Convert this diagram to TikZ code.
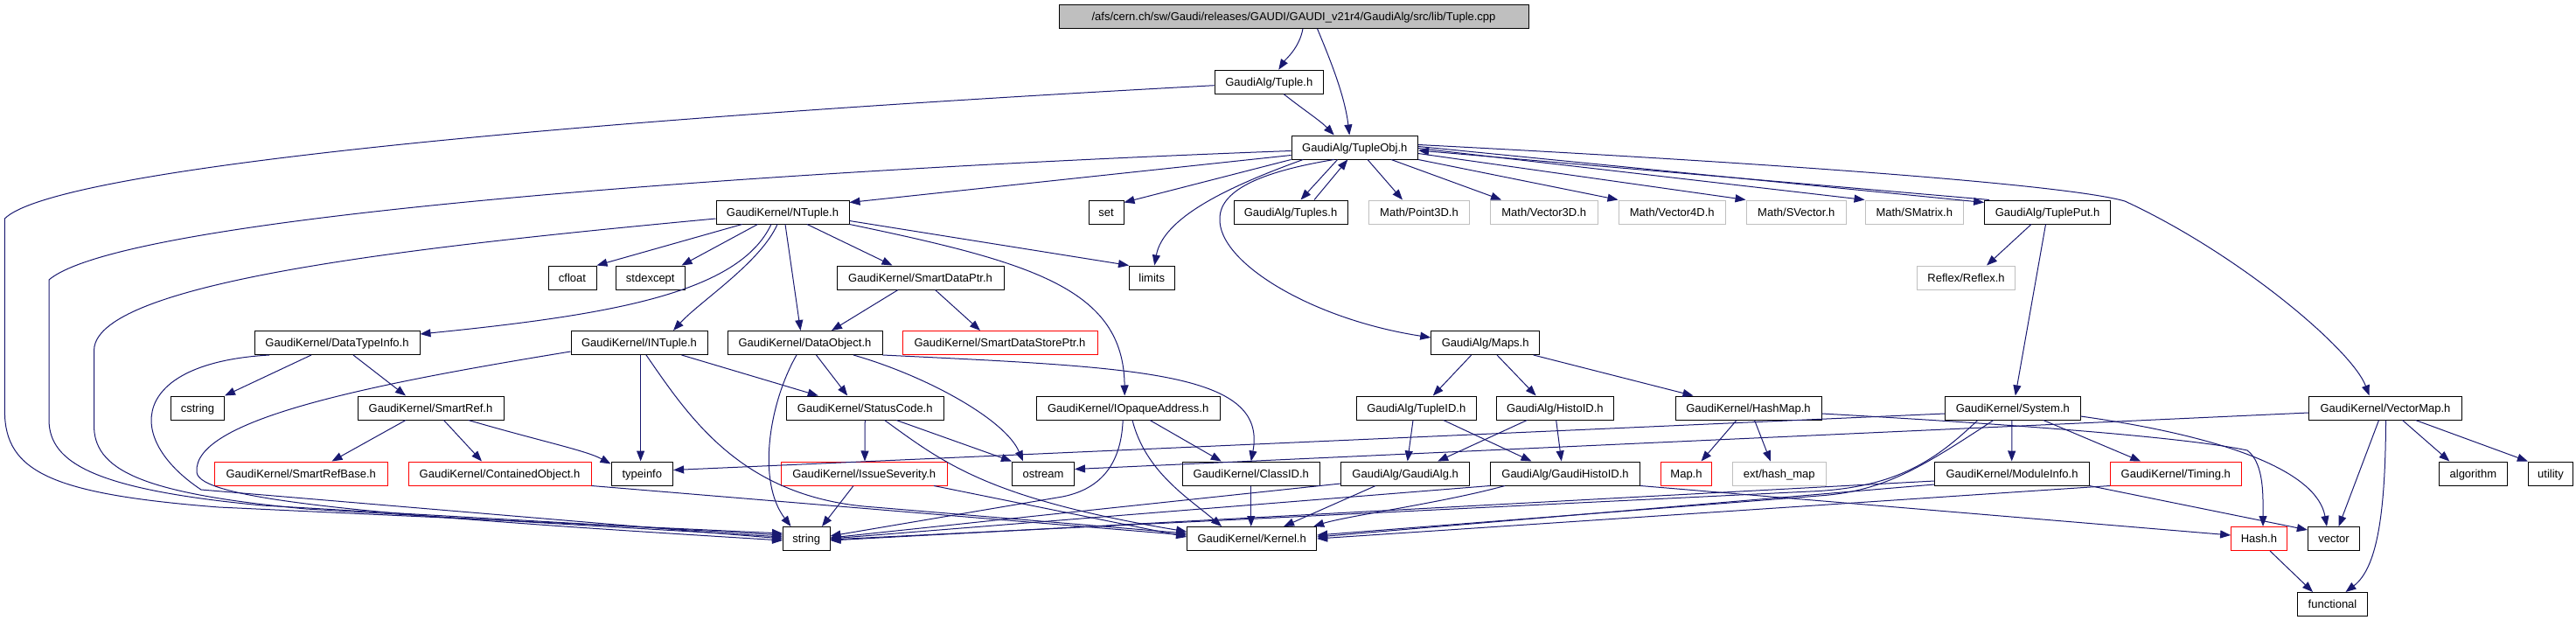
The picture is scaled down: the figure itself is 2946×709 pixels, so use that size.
\documentclass[tikz,border=0pt]{standalone}
\usepackage{fontspec}
\setmainfont{Liberation Sans}
\usetikzlibrary{arrows.meta}
\definecolor{edgeblue}{HTML}{191970}
\definecolor{extgray}{HTML}{BFBFBF}
\definecolor{errred}{HTML}{FF0000}
\begin{document}
\begin{tikzpicture}[x=1pt,y=-1pt,
  hdr/.style={draw=black, line width=1pt, fill=white, minimum width=#1, minimum height=27pt,
    inner sep=0pt, text height=11.5pt, text depth=2pt, font=\fontsize{13pt}{15pt}\selectfont},
  redb/.style={draw=errred},
  grayb/.style={draw=extgray},
  edge/.style={draw=edgeblue, line width=1pt, -{Triangle[length=12pt,width=9pt]}}]
\path[use as bounding box] (0,0) rectangle (2946,709);
% row 0-2
\node[hdr=537pt, fill=extgray] (cpp) at (1479.5,18.8) {/afs/cern.ch/sw/Gaudi/releases/GAUDI/GAUDI\_v21r4/GaudiAlg/src/lib/Tuple.cpp};
\node[hdr=124.5pt] (tupleh) at (1451.25,93.7) {GaudiAlg/Tuple.h};
\node[hdr=144.5pt] (tupleobj) at (1549.25,168.5) {GaudiAlg/TupleObj.h};
% row 3
\node[hdr=152pt] (ntuple) at (895,242.5) {GaudiKernel/NTuple.h};
\node[hdr=40pt] (set) at (1265,242.5) {set};
\node[hdr=130pt] (tuples) at (1476,242.5) {GaudiAlg/Tuples.h};
\node[hdr=115pt, grayb] (point3d) at (1623,242.5) {Math/Point3D.h};
\node[hdr=122.5pt, grayb] (vector3d) at (1765.75,242.5) {Math/Vector3D.h};
\node[hdr=122.5pt, grayb] (vector4d) at (1912.25,242.5) {Math/Vector4D.h};
\node[hdr=114.6pt, grayb] (svector) at (2054.3,242.5) {Math/SVector.h};
\node[hdr=112.5pt, grayb] (smatrix) at (2189.25,242.5) {Math/SMatrix.h};
\node[hdr=143.8pt] (tupleput) at (2341.5,242.5) {GaudiAlg/TuplePut.h};
% row 4
\node[hdr=55pt] (cfloat) at (654.5,317.5) {cfloat};
\node[hdr=79.5pt] (stdexcept) at (743.75,317.5) {stdexcept};
\node[hdr=191pt] (smartdataptr) at (1052.5,317.5) {GaudiKernel/SmartDataPtr.h};
\node[hdr=51.5pt] (limits) at (1317.25,317.5) {limits};
\node[hdr=112pt, grayb] (reflex) at (2248.5,317.5) {Reflex/Reflex.h};
% row 5
\node[hdr=189pt] (datatypeinfo) at (385.5,392) {GaudiKernel/DataTypeInfo.h};
\node[hdr=156pt] (intuple) at (731,392) {GaudiKernel/INTuple.h};
\node[hdr=177pt] (dataobject) at (920.5,392) {GaudiKernel/DataObject.h};
\node[hdr=223pt, redb] (smartdatastoreptr) at (1143.5,392) {GaudiKernel/SmartDataStorePtr.h};
\node[hdr=124pt] (maps) at (1698.7,392) {GaudiAlg/Maps.h};
% row 6
\node[hdr=61pt] (cstring) at (226,466.5) {cstring};
\node[hdr=167pt] (smartref) at (492.5,466.5) {GaudiKernel/SmartRef.h};
\node[hdr=180.5pt] (statuscode) at (989.25,466.5) {GaudiKernel/StatusCode.h};
\node[hdr=210.4pt] (iopaque) at (1290.2,466.5) {GaudiKernel/IOpaqueAddress.h};
\node[hdr=136.5pt] (tupleid) at (1619.75,466.5) {GaudiAlg/TupleID.h};
\node[hdr=133.3pt] (histoid) at (1778.35,466.5) {GaudiAlg/HistoID.h};
\node[hdr=167pt] (hashmap) at (1999.5,466.5) {GaudiKernel/HashMap.h};
\node[hdr=154.4pt] (system) at (2301.8,466.5) {GaudiKernel/System.h};
\node[hdr=174.8pt] (vectormap) at (2728,466.5) {GaudiKernel/VectorMap.h};
% row 7
\node[hdr=197.5pt, redb] (smartrefbase) at (344.25,541.5) {GaudiKernel/SmartRefBase.h};
\node[hdr=209pt, redb] (containedobject) at (571.5,541.5) {GaudiKernel/ContainedObject.h};
\node[hdr=70.6pt] (typeinfo) at (734.3,541.5) {typeinfo};
\node[hdr=190.5pt, redb] (issueseverity) at (988.25,541.5) {GaudiKernel/IssueSeverity.h};
\node[hdr=71pt] (ostream) at (1193,541.5) {ostream};
\node[hdr=156.5pt] (classid) at (1430.75,541.5) {GaudiKernel/ClassID.h};
\node[hdr=147pt] (gaudialg) at (1607.15,541.5) {GaudiAlg/GaudiAlg.h};
\node[hdr=171pt] (gaudihistoid) at (1790,541.5) {GaudiAlg/GaudiHistoID.h};
\node[hdr=58pt, redb] (maph) at (1928.5,541.5) {Map.h};
\node[hdr=106.4pt, grayb] (exthashmap) at (2034.8,541.5) {ext/hash\_map};
\node[hdr=176.4pt] (moduleinfo) at (2301,541.5) {GaudiKernel/ModuleInfo.h};
\node[hdr=149.5pt, redb] (timing) at (2488.25,541.5) {GaudiKernel/Timing.h};
\node[hdr=77.7pt] (algorithm) at (2828.35,541.5) {algorithm};
\node[hdr=51.3pt] (utility) at (2917,541.5) {utility};
% row 8-9
\node[hdr=53.5pt] (string) at (922.25,616) {string};
\node[hdr=148pt] (kernel) at (1431.65,616) {GaudiKernel/Kernel.h};
\node[hdr=63.6pt, redb] (hash) at (2583.4,616) {Hash.h};
\node[hdr=59.3pt] (vector) at (2669,616) {vector};
\node[hdr=80pt] (functional) at (2667.5,691) {functional};

% ---- edges ----
\draw[edge] ([xshift=10.5]cpp.south) .. controls (1486,55) and (1470,68) .. ([xshift=11]tupleh.north);
\draw[edge] ([xshift=27]cpp.south) .. controls (1522,70) and (1538,110) .. ([xshift=-6]tupleobj.north);
\draw[edge] ([xshift=17]tupleh.south) .. controls (1490,125) and (1510,138) .. ([xshift=-23.5]tupleobj.north);
% to string (left bundle)
\draw[edge] ([yshift=-4]tupleh.west) .. controls (600,140) and (60,195) .. (5.4,250) -- (5.4,470) .. controls (5.4,540) and (60,565) .. (250,580) -- ([yshift=6]string.west);
\draw[edge] ([yshift=-4]tupleobj.west) .. controls (1000,190) and (150,240) .. (56,320) -- (56,480) .. controls (56,530) and (110,560) .. (300,578) -- ([yshift=4]string.west);
\draw[edge] ([yshift=-7.5]ntuple.west) .. controls (500,280) and (110,320) .. (107.6,400) -- (107.6,490) .. controls (110,540) and (170,565) .. (350,582) -- ([yshift=2]string.west);
\draw[edge] ([xshift=-77.5]datatypeinfo.south) .. controls (150,415) and (140,500) .. (230,560) -- (string.west);
\draw[edge] ([yshift=-10]intuple.west) .. controls (420,440) and (220,480) .. (225,540) .. controls (228,570) and (400,588) .. ([yshift=-2]string.west);
% to string (top/right)
\draw[edge] ([xshift=-9.5]dataobject.south) .. controls (880,460) and (865,550) .. ([xshift=-17.75]string.north);
\draw[edge] ([xshift=-12.25]issueseverity.south) -- ([xshift=17.75]string.north);
\draw[edge] ([xshift=-6]iopaque.south) .. controls (1282,535) and (1255,560) .. (1215,568) -- ([yshift=3]string.east);
\draw[edge] ([yshift=-11.5]gaudialg.west) -- ([yshift=1]string.east);
\draw[edge] (gaudihistoid.south west) -- (string.east);
\draw[edge] ([xshift=-40]system.south) .. controls (2215,525) and (2170,558) .. (2070,562) -- ([yshift=-1]string.east);
\draw[edge] ([yshift=-8.5]moduleinfo.west) -- ([yshift=-2]string.east);
% to Kernel.h
\draw[edge] ([xshift=8]intuple.south) .. controls (790,480) and (850,570) .. (1000,580) -- ([yshift=6]kernel.west);
\draw[edge] (containedobject.south east) -- ([yshift=4]kernel.west);
\draw[edge] ([xshift=79.75]issueseverity.south) -- ([yshift=2]kernel.west);
\draw[edge] ([xshift=22.35]statuscode.south) .. controls (1080,530) and (1130,570) .. ([yshift=8]kernel.west);
\draw[edge] ([xshift=4.8]iopaque.south) .. controls (1310,540) and (1360,570) .. ([xshift=-34.6]kernel.north);
\draw[edge] (classid.south) -- ([xshift=-0.9]kernel.north);
\draw[edge] ([xshift=-34]gaudialg.south) -- ([xshift=36.4]kernel.north);
\draw[edge] ([xshift=-69]gaudihistoid.south) .. controls (1650,575) and (1540,590) .. ([xshift=-4]kernel.north east);
\draw[edge] ([xshift=-22]system.south) .. controls (2190,540) and (2150,562) .. (2080,567) -- ([yshift=4]kernel.east);
\draw[edge] ([yshift=-12.5]moduleinfo.west) -- ([yshift=2]kernel.east);
\draw[edge] (timing.south west) -- (kernel.east);
% typeinfo
\draw[edge] ([xshift=1.6]intuple.south) -- ([xshift=-1.7]typeinfo.north);
\draw[edge] ([xshift=43.2]smartref.south) .. controls (620,505) and (670,515) .. ([yshift=-3]typeinfo.north west);
\draw[edge] ([yshift=-6.5]system.west) -- ([yshift=4]typeinfo.east);
% ostream
\draw[edge] ([xshift=35.75]statuscode.south) -- (ostream.north west);
\draw[edge] ([xshift=55.5]dataobject.south) .. controls (1060,430) and (1150,480) .. ([xshift=-23]ostream.north);
\draw[edge] ([yshift=-5.5]vectormap.west) -- ([yshift=5]ostream.east);
% StatusCode, ClassID
\draw[edge] ([xshift=13]dataobject.south) -- ([xshift=-20]statuscode.north);
\draw[edge] ([xshift=48.5]intuple.south) -- ([xshift=-53.5]statuscode.north);
\draw[edge] (statuscode.south) -- ([xshift=0.75]issueseverity.north);
\draw[edge] (dataobject.south east) .. controls (1300,420) and (1450,425) .. (classid.north);
\draw[edge] ([xshift=24.8]iopaque.south) -- ([xshift=-34]classid.north);
% DataTypeInfo, SmartRef
\draw[edge] ([xshift=-29.5]datatypeinfo.south) -- (cstring.north east);
\draw[edge] ([xshift=18.5]datatypeinfo.south) -- ([xshift=-28.5]smartref.north);
\draw[edge] ([xshift=-28.5]smartref.south) -- ([xshift=35.25]smartrefbase.north);
\draw[edge] ([xshift=15]smartref.south) -- ([xshift=-20.5]containedobject.north);
% NTuple
\draw[edge] ([xshift=-46.3]ntuple.south) -- (cfloat.north east);
\draw[edge] ([xshift=-28.5]ntuple.south) -- ([xshift=35.75]stdexcept.north);
\draw[edge] ([xshift=-13]ntuple.south) .. controls (845,335) and (700,360) .. ([yshift=-4]datatypeinfo.north east);
\draw[edge] ([xshift=-6]ntuple.south) .. controls (870,300) and (800,345) .. ([xshift=39]intuple.north);
\draw[edge] ([xshift=3]ntuple.south) -- ([xshift=-5]dataobject.north);
\draw[edge] ([xshift=28]ntuple.south) -- ([xshift=-32]smartdataptr.north);
\draw[edge] ([yshift=-10]ntuple.east) -- (limits.north west);
\draw[edge] (ntuple.south east) .. controls (1180,300) and (1285,330) .. ([xshift=-4]iopaque.north);
% SmartDataPtr
\draw[edge] ([xshift=-25.5]smartdataptr.south) -- ([xshift=30.5]dataobject.north);
\draw[edge] ([xshift=17]smartdataptr.south) -- ([xshift=-22.5]smartdatastoreptr.north);
% TupleObj
\draw[edge] ([yshift=-9]tupleobj.west) -- ([yshift=-3]ntuple.north east);
\draw[edge] (tupleobj.south west) -- ([yshift=-3]set.north east);
\draw[edge] ([xshift=-59]tupleobj.south) .. controls (1400,215) and (1330,250) .. ([xshift=3]limits.north);
\draw[edge] ([xshift=-23.5]tupleobj.south) .. controls (1450,195) and (1395,215) .. (1395,250) .. controls (1393,300) and (1500,365) .. ([yshift=6]maps.west);
\draw[edge] ([xshift=-19.65]tupleobj.south) -- ([xshift=11.5]tuples.north);
\draw[edge] ([xshift=27]tuples.north) -- ([xshift=-8]tupleobj.south);
\draw[edge] ([xshift=14.75]tupleobj.south) -- ([xshift=-19]point3d.north);
\draw[edge] ([xshift=41.75]tupleobj.south) -- ([xshift=-48.75]vector3d.north);
\draw[edge] (tupleobj.south east) -- (vector4d.north west);
\draw[edge] ([yshift=-7]tupleobj.east) -- (svector.north west);
\draw[edge] ([yshift=-1]tupleobj.east) -- (smatrix.north west);
\draw[edge] ([yshift=1]tupleobj.east) -- ([yshift=-3]tupleput.north west);
\draw[edge] ([xshift=6]tupleput.north west) -- ([yshift=-3.5]tupleobj.east);
\draw[edge] ([yshift=3]tupleobj.east) .. controls (2000,185) and (2360,210) .. (2430,230) .. controls (2560,290) and (2690,400) .. ([xshift=-18.4]vectormap.north);
% TuplePut
\draw[edge] ([xshift=-18.5]tupleput.south) -- ([xshift=23.5]reflex.north);
\draw[edge] ([xshift=-2]tupleput.south) -- ([xshift=3]system.north);
% Maps
\draw[edge] ([xshift=-16]maps.south) -- ([xshift=19]tupleid.north);
\draw[edge] ([xshift=13.3]maps.south) -- ([xshift=-21.7]histoid.north);
\draw[edge] ([xshift=55]maps.south) -- ([xshift=-63]hashmap.north);
\draw[edge] ([xshift=-3.75]tupleid.south) -- ([xshift=2.5]gaudialg.north);
\draw[edge] ([xshift=31]tupleid.south) -- ([xshift=-38.5]gaudihistoid.north);
\draw[edge] ([xshift=-32]histoid.south) -- ([xshift=37]gaudialg.north);
\draw[edge] ([xshift=1.3]histoid.south) -- ([xshift=-4.3]gaudihistoid.north);
% HashMap
\draw[edge] ([xshift=-13.5]hashmap.south) -- ([xshift=17]maph.north);
\draw[edge] ([xshift=7]hashmap.south) -- ([xshift=-10]exthashmap.north);
\draw[edge] ([yshift=-6.5]hashmap.east) .. controls (2300,485) and (2500,500) .. (2570,515) .. controls (2590,530) and (2588,570) .. ([xshift=4.6]hash.north);
\draw[edge] (gaudihistoid.south east) -- ([yshift=4]hash.west);
% System
\draw[edge] ([xshift=-1]system.south) -- ([xshift=-0.3]moduleinfo.north);
\draw[edge] ([xshift=35]system.south) -- ([xshift=-40]timing.north);
\draw[edge] ([yshift=-9.5]system.east) .. controls (2550,500) and (2650,540) .. ([xshift=-8]vector.north);
\draw[edge] (moduleinfo.south east) -- ([yshift=10]vector.west);
% VectorMap
\draw[edge] ([xshift=-7.5]vectormap.south) -- ([xshift=5.6]vector.north);
\draw[edge] ([xshift=0.5]vectormap.south) .. controls (2728,590) and (2718,650) .. ([xshift=15]functional.north);
\draw[edge] ([xshift=19.5]vectormap.south) -- ([xshift=-27]algorithm.north);
\draw[edge] ([xshift=34.5]vectormap.south) -- (utility.north west);
\draw[edge] ([xshift=12.6]hash.south) -- ([xshift=-22.5]functional.north);
\end{tikzpicture}
\end{document}
